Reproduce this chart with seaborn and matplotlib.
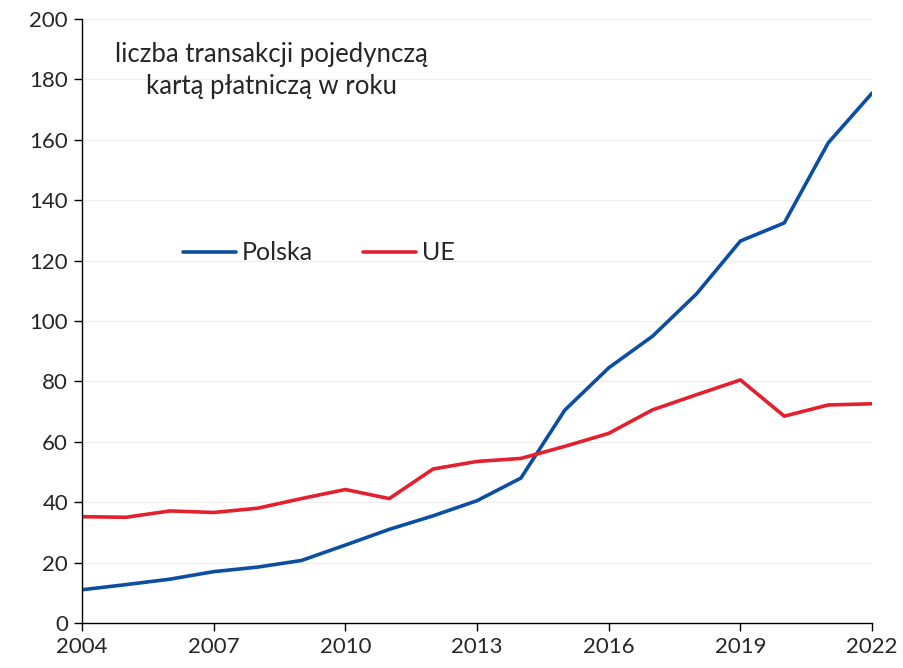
import pandas as pd
import matplotlib.pyplot as plt
import seaborn as sns

# dane
lata = list(range(2004, 2023))
polska = [11.0, 12.7, 14.5, 17.0, 18.5, 20.7, 25.8, 31.0, 35.5, 40.5, 48.0,
          70.5, 84.5, 95.0, 109.0, 126.5, 132.5, 159.0, 175.5]
ue = [35.2, 35.0, 37.1, 36.6, 38.0, 41.2, 44.2, 41.2, 51.0, 53.5, 54.5,
      58.5, 62.8, 70.6, 75.6, 80.5, 68.5, 72.2, 72.6]
serie = ["Polska", "UE"]
kolory = {"Polska": "#0B4EA2", "UE": "#E4202E"}

df = pd.DataFrame({
    "rok": lata * 2,
    "wartosc": polska + ue,
    "seria": ["Polska"] * len(lata) + ["UE"] * len(lata),
})

sns.set_style("white")
plt.rcParams['font.family'] = ['Lato', 'DejaVu Sans']

fig = plt.figure(figsize=(9.04, 6.68), dpi=100)
ax = fig.add_axes([0.0907, 0.0674, 0.874, 0.904])

sns.lineplot(data=df, x="rok", y="wartosc", hue="seria", hue_order=serie,
             palette=kolory, linewidth=2.6, ax=ax)

ax.set_xlim(2004, 2022)
ax.set_ylim(0, 200)
ax.set_xticks(range(2004, 2023, 3))
ax.set_yticks(range(0, 201, 20))
ax.set_xlabel("")
ax.set_ylabel("")
ax.yaxis.grid(True, color="#EEEEEE", linewidth=0.8)
ax.xaxis.grid(False)
for s in ["top", "right"]:
    ax.spines[s].set_visible(False)
for s in ["left", "bottom"]:
    ax.spines[s].set_color("black")
    ax.spines[s].set_linewidth(1.0)
ax.tick_params(axis="both", labelsize=16, length=6, width=1, color="black",
               direction="out", bottom=True, left=True, pad=4)

ax.text(0.24, 0.962, "liczba transakcji pojedynczą\nkartą płatniczą w roku",
        transform=ax.transAxes, ha="center", va="top", fontsize=18.5,
        linespacing=1.35)

ax.legend(loc="center left", bbox_to_anchor=(0.128, 0.613), ncol=2,
          frameon=False, fontsize=18, handlelength=2.1, columnspacing=2.0,
          handletextpad=0.25, borderpad=0, borderaxespad=0)

plt.savefig("out.png", dpi=100)
